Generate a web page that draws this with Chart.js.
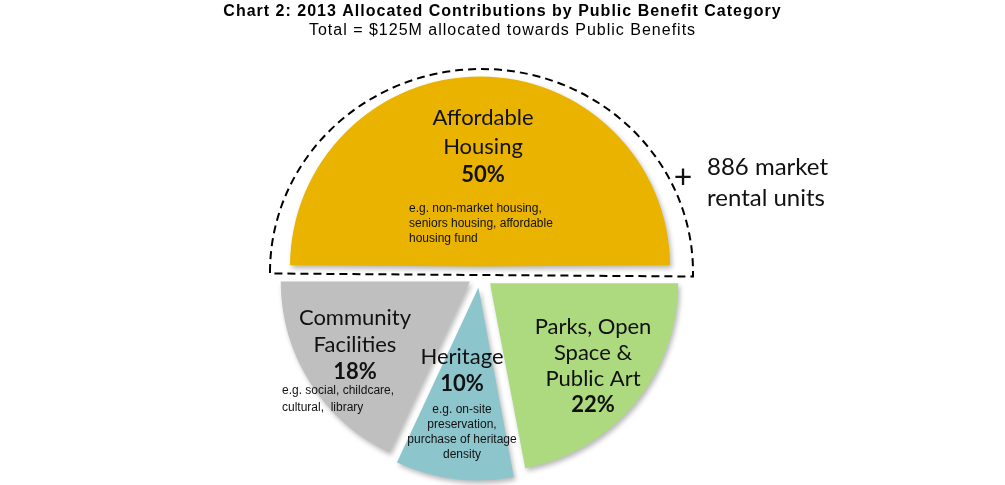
<!DOCTYPE html>
<html><head><meta charset="utf-8">
<script src="https://cdn.jsdelivr.net/npm/chart.js@4.4.1/dist/chart.umd.min.js"></script>
<style>html,body{margin:0;padding:0;background:#fff;overflow:hidden}#wrap{width:1005px;height:485px;position:relative}</style>
</head><body><div id="wrap"><canvas id="c" width="1005" height="485"></canvas></div>
<script>
// ---- data ----
const categories = ['Affordable Housing', 'Parks, Open Space & Public Art', 'Heritage', 'Community Facilities'];
const shares = [50, 22, 10, 18];
const nameLines = [['Affordable', 'Housing'], ['Parks, Open', 'Space &', 'Public Art'], ['Heritage'], ['Community', 'Facilities']];
const exampleLines = [
  ['e.g. non-market housing,', 'seniors housing, affordable', 'housing fund'],
  [],
  ['e.g. on-site', 'preservation,', 'purchase of heritage', 'density'],
  ['e.g. social, childcare,', 'cultural,  library']
];
const titleText = 'Chart 2: 2013 Allocated Contributions by Public Benefit Category';
const subtitleText = 'Total = $125M allocated towards Public Benefits';
const extraNote = ['886 market', 'rental units'];

const NAME_FONT = '22px Lato, "Open Sans", sans-serif';
const PCT_FONT = 'bold 22px Lato, "Open Sans", sans-serif';
const EX_FONT = '12px "Liberation Sans", Arial, sans-serif';

// label layout relative to pie centre
const labelLayout = [
  {x: 3,    y0: -157, step: 28.5, exAlign: 'left',   exX: -71,  exY0: -66, exStep: 15},
  {x: 113,  y0: 52,   step: 26,   exAlign: 'center', exX: 113,  exY0: 0,   exStep: 15},
  {x: -18,  y0: 82,   step: 27,   exAlign: 'center', exX: -18,  exY0: 135, exStep: 15},
  {x: -125, y0: 43,   step: 27,   exAlign: 'left',   exX: -198, exY0: 116, exStep: 17}
];

const centerPlugin = {
  id: 'centerPie',
  afterLayout(chart) {
    const a = chart.chartArea;
    const w = a.right - a.left, h = a.bottom - a.top;
    const cx = 480, cy = 275;
    a.left = cx - w / 2; a.right = cx + w / 2;
    a.top = cy - h / 2; a.bottom = cy + h / 2;
  },
  beforeDraw(chart) {
    chart.ctx.letterSpacing = '1px';
  }
};

// keep the exploded half-disc from growing in radius (Chart.js enlarges wide arcs by their offset)
const radiusFixPlugin = {
  id: 'radiusFix',
  afterDatasetsUpdate(chart) {
    const arcs = chart.getDatasetMeta(0).data;
    const a = arcs[0];
    const grow = ((a.options.offset || 0) / 4) * (1 - Math.sin(Math.min(Math.PI, a.circumference)));
    a.outerRadius = a.outerRadius - grow + 2;
  }
};

const shadowPlugin = {
  id: 'sliceShadow',
  beforeDatasetsDraw(chart) {
    const ctx = chart.ctx;
    ctx.save();
    ctx.shadowColor = 'rgba(0,0,0,0.28)';
    ctx.shadowBlur = 5;
    ctx.shadowOffsetX = 2;
    ctx.shadowOffsetY = 3;
  },
  afterDatasetsDraw(chart) { chart.ctx.restore(); }
};

const labelPlugin = {
  id: 'sliceLabels',
  afterDraw(chart) {
    const ctx = chart.ctx;
    const meta = chart.getDatasetMeta(0);
    const cx = meta.data[0].x, cy = meta.data[0].y, R = meta.data[1].outerRadius;
    ctx.save();
    ctx.letterSpacing = '0px';
    // dashed outline around affordable housing
    ctx.setLineDash([8, 5]);
    ctx.lineWidth = 2;
    ctx.strokeStyle = '#000';
    ctx.beginPath();
    ctx.ellipse(cx + 1.5, cy - 3, R + 23.5, R + 15, 0, Math.PI, 2 * Math.PI);
    ctx.lineTo(cx + R + 25, cy + 1.5);
    ctx.lineTo(cx - R - 22, cy - 1.5);
    ctx.closePath();
    ctx.stroke();
    ctx.setLineDash([]);

    ctx.fillStyle = '#111';
    ctx.textBaseline = 'middle';
    meta.data.forEach((arc, i) => {
      const L = labelLayout[i];
      ctx.textAlign = 'center';
      ctx.font = NAME_FONT;
      nameLines[i].forEach((t, k) => ctx.fillText(t, cx + L.x, cy + L.y0 + k * L.step));
      ctx.font = PCT_FONT;
      ctx.fillText(shares[i] + '%', cx + L.x, cy + L.y0 + nameLines[i].length * L.step);
      ctx.font = EX_FONT;
      ctx.textAlign = L.exAlign;
      exampleLines[i].forEach((t, k) => ctx.fillText(t, cx + L.exX, cy + L.exY0 + k * L.exStep));
    });
    // "+ 886 market rental units"
    ctx.textAlign = 'center';
    ctx.font = '32px Lato, sans-serif';
    ctx.fillText('+', cx + 203, cy - 97);
    ctx.textAlign = 'left';
    ctx.font = '24px Lato, "Open Sans", sans-serif';
    ctx.fillText(extraNote[0], cx + 227, cy - 108);
    ctx.fillText(extraNote[1], cx + 227, cy - 77);
    ctx.restore();
  }
};

new Chart(document.getElementById('c'), {
  type: 'pie',
  data: {
    labels: categories,
    datasets: [{
      data: shares,
      backgroundColor: ['#E9B300', '#ADDA7F', '#8DC5CD', '#BFBFBF'],
      borderWidth: 0,
      offset: [34, 52, 50, 48],
      radius: 188,
      clip: false
    }]
  },
  options: {
    responsive: false,
    animation: false,
    events: [],
    rotation: -90,
    layout: {padding: 0},
    plugins: {
      legend: {display: false},
      tooltip: {enabled: false},
      title: {
        display: true, text: titleText, color: '#000',
        font: {family: '"Liberation Sans", Arial, sans-serif', size: 16, weight: 'bold'},
        padding: {top: 2, bottom: 0}
      },
      subtitle: {
        display: true, text: subtitleText, color: '#000',
        font: {family: '"Liberation Sans", Arial, sans-serif', size: 16, weight: 'normal'},
        padding: {top: 0, bottom: 4}
      }
    }
  },
  plugins: [centerPlugin, radiusFixPlugin, shadowPlugin, labelPlugin]
});
</script></body></html>
